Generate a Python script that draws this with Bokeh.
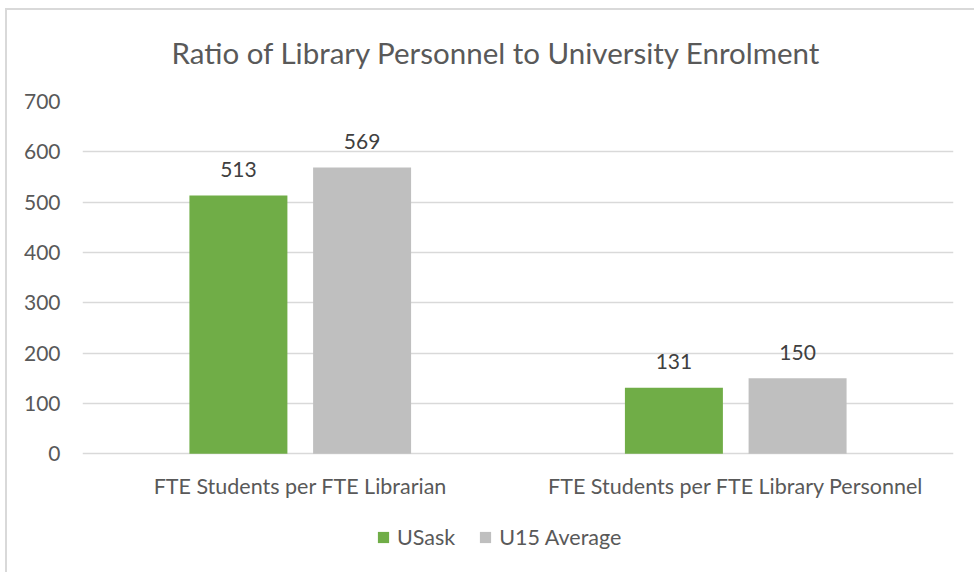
from bokeh.plotting import figure
from bokeh.models import ColumnDataSource, FixedTicker, LabelSet, Legend, LegendItem, Range1d, Title, InlineStyleSheet
from bokeh.embed import file_html
from bokeh.resources import INLINE
from bokeh.core.properties import value

categories = ["FTE Students per FTE Librarian", "FTE Students per FTE Library Personnel"]
series_names = ["USask", "U15 Average"]
usask = [513, 131]
u15 = [569, 150]
y_ticks = [0, 100, 200, 300, 400, 500, 600, 700]

FONT = "Lato"
TXT = "#595959"
colors = ["#70AD47", "#BFBFBF"]

xs = [i + 0.5 for i in range(len(categories))]
offset = 0.142
width = 0.225

# chart border (outer frame of the original chart), drawn as an overlay
border_css = InlineStyleSheet(css="""
:host { overflow: hidden; }
:host::after {
  content: "";
  position: absolute;
  left: 5px; top: 8px; right: -20px; bottom: -20px;
  border: 2px solid #D9D9D9;
  pointer-events: none;
  z-index: 10;
}
""")

# frame extends below zero to hold category labels and legend
p = figure(width=974, height=572, output_backend="svg", toolbar_location=None,
           x_range=Range1d(0, len(categories)), y_range=Range1d(-236, 700),
           min_border_left=82, min_border_right=21, min_border_top=100, min_border_bottom=0,
           stylesheets=[border_css])
p.border_fill_color = "white"
p.outline_line_color = None

renderers = []
for k, (vals, col) in enumerate(zip([usask, u15], colors)):
    sign = -1 if k == 0 else 1
    src = ColumnDataSource(dict(x=[x + sign * offset for x in xs], top=vals,
                                lbl=[str(v) for v in vals]))
    r = p.vbar(x="x", top="top", bottom=0, width=width, source=src, color=col, line_color=None)
    renderers.append(r)
    p.add_layout(LabelSet(x="x", y="top", text="lbl", source=src, text_align="center",
                          text_baseline="middle", y_offset=26, text_font=value(FONT),
                          text_font_size="21px", text_color="#404040"))

cat_src = ColumnDataSource(dict(x=xs, y=[0] * len(xs), t=categories))
p.add_layout(LabelSet(x="x", y="y", text="t", source=cat_src, text_align="center",
                      text_baseline="middle", y_offset=-32, text_font=value(FONT),
                      text_font_size="21.5px", text_color=TXT))

p.title = Title(text="Ratio of Library Personnel to University Enrolment", align="left",
                offset=89, text_font=FONT, text_font_size="29.5px", text_font_style="normal",
                text_color=TXT, standoff=64)

p.xaxis.visible = False
p.yaxis.ticker = FixedTicker(ticks=y_ticks)
p.yaxis.axis_line_color = None
p.yaxis.major_tick_line_color = None
p.yaxis.minor_tick_line_color = None
p.yaxis.major_label_text_font = FONT
p.yaxis.major_label_text_color = TXT
p.yaxis.major_label_text_font_size = "21px"
p.yaxis.major_label_standoff = 16

p.xgrid.grid_line_color = None
p.ygrid.ticker = FixedTicker(ticks=y_ticks)
p.ygrid.grid_line_color = "#D9D9D9"
p.ygrid.grid_line_width = 1.3

legend = Legend(items=[LegendItem(label=n, renderers=[r]) for n, r in zip(series_names, renderers)],
                orientation="horizontal", location=(294, 22), label_text_font=FONT,
                label_text_font_size="21.5px", label_text_color=TXT, glyph_width=14,
                glyph_height=14, border_line_color=None, background_fill_alpha=0,
                spacing=23, margin=0, padding=0, label_standoff=7)
p.add_layout(legend, "center")

open("out.html", "w").write(file_html(p, INLINE))
